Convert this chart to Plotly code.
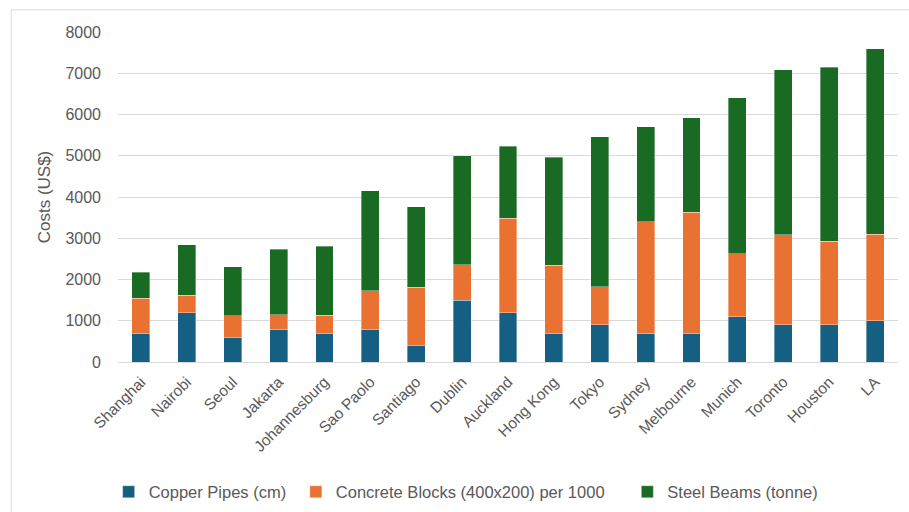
import plotly.graph_objects as go

cities = ["Shanghai", "Nairobi", "Seoul", "Jakarta", "Johannesburg", "Sao Paolo",
          "Santiago", "Dublin", "Auckland", "Hong Kong", "Tokyo", "Sydney",
          "Melbourne", "Munich", "Toronto", "Houston", "LA"]

copper_pipes = [700, 1200, 600, 800, 700, 800, 400, 1500, 1200, 700, 900, 700,
                700, 1100, 900, 900, 1000]
concrete_blocks = [850, 420, 520, 350, 430, 930, 1410, 860, 2280, 1650, 920, 2700,
                   2930, 1530, 2190, 2030, 2100]
steel_beams = [630, 1220, 1190, 1580, 1680, 2420, 1950, 2640, 1750, 2610, 3640, 2300,
               2290, 3780, 3990, 4210, 4500]

series = [
    ("Copper Pipes (cm)", copper_pipes, "#156082"),
    ("Concrete Blocks (400x200) per 1000", concrete_blocks, "#E97132"),
    ("Steel Beams (tonne)", steel_beams, "#196B24"),
]

# each series gets its own legend box so the entries can be spaced freely
legend_ids = ["legend", "legend2", "legend3"]
legend_x = [-0.012, 0.228, 0.653]

fig = go.Figure()
for (name, values, color), lid in zip(series, legend_ids):
    fig.add_trace(go.Bar(
        x=cities, y=values, name=name, legend=lid,
        marker=dict(color=color, line=dict(color="rgba(255,255,255,0.6)", width=0.6)),
    ))

text_color = "#595959"
legend_common = dict(
    orientation="h", xanchor="left", y=-0.394, yanchor="middle",
    font=dict(size=16.5, color=text_color), itemwidth=30,
    bgcolor="rgba(0,0,0,0)", borderwidth=0,
)

fig.update_layout(
    barmode="stack",
    bargap=0.61,
    width=909, height=512,
    margin=dict(l=118, r=11, t=32, b=150, autoexpand=False),
    paper_bgcolor="white",
    plot_bgcolor="white",
    font=dict(family="Liberation Sans, Arial, sans-serif", color=text_color, size=16),
    showlegend=True,
    legend=dict(x=legend_x[0], **legend_common),
    legend2=dict(x=legend_x[1], **legend_common),
    legend3=dict(x=legend_x[2], **legend_common),
    xaxis=dict(
        tickangle=-45, tickfont=dict(size=15.5, color=text_color),
        showgrid=False, showline=False, ticks="", ticklabelstandoff=7,
        automargin=False,
    ),
    yaxis=dict(
        range=[0, 8000], dtick=1000, showgrid=True, gridcolor="#D9D9D9",
        gridwidth=1, zeroline=True, zerolinecolor="#D9D9D9", zerolinewidth=1,
        tickfont=dict(size=16, color=text_color), ticks="", ticklabelstandoff=16,
        title=dict(text="Costs (US$)", font=dict(size=17, color=text_color), standoff=10),
        automargin=False,
    ),
    shapes=[dict(
        type="rect", xref="paper", yref="paper",
        x0=-0.137, x1=1.03, y0=-0.5, y1=1.067,
        line=dict(color="#D9D9D9", width=1), fillcolor="rgba(0,0,0,0)", layer="below",
    )],
)

fig.write_html("out.html")
